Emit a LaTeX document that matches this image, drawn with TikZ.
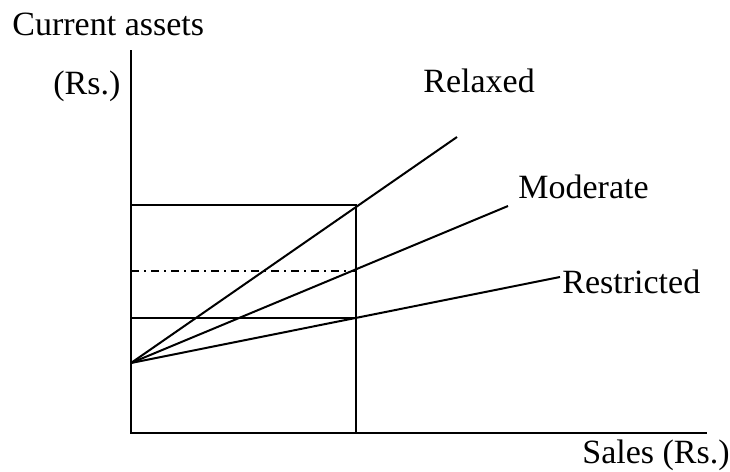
\documentclass[tikz,border=0pt]{standalone}
\usepackage{fontspec}
\setmainfont{Liberation Serif}
\usetikzlibrary{positioning}
\tikzstyle{axis} = [draw, line width=1pt]
\tikzstyle{line} = [draw, line width=1pt]
\tikzstyle{guide} = [draw, line width=1pt, dash pattern=on 4pt off 2.5pt on 1pt off 2.5pt]
\tikzstyle{label} = [anchor=base west, inner sep=0pt, font=\fontsize{17}{20}\selectfont]

\begin{document}
\begin{tikzpicture}[x=0.5pt, y=-0.5pt]
    \useasboundingbox (0,0) rectangle (730,472);
    % Place points
    \coordinate (top) at (131,50);
    \coordinate (origin) at (131,433);
    \coordinate (right) at (707,433);
    \coordinate (start) at (131,363);
    \coordinate (relaxed end) at (457,137);
    \coordinate (moderate end) at (508,206);
    \coordinate (restricted end) at (560,277);
    \coordinate (high) at (131,205);
    \coordinate (mid) at (131,271);
    \coordinate (low) at (131,318);
    \coordinate (high sales) at (356,205);
    \coordinate (mid sales) at (356,271);
    \coordinate (low sales) at (356,318);
    \coordinate (sales) at (356,433);

    % Place labels
    \node [label] (assets) at (12,35) {Current assets};
    \node [label] (rs) at (53,94) {(Rs.)};
    \node [label] (relaxed) at (423,92) {Relaxed};
    \node [label] (moderate) at (518,198) {Moderate};
    \node [label] (restricted) at (562,293) {Restricted};
    \node [label] (salesrs) at (582,463) {Sales (Rs.)};

    % Draw axes
    \path [axis] (top) -- (origin) -- (right);

    % Draw lines
    \path [line] (start) -- (relaxed end);
    \path [line] (start) -- (moderate end);
    \path [line] (start) -- (restricted end);
    \path [line] (high) -- (high sales) -- (sales);
    \path [line] (low) -- (low sales);
    \path [guide] (mid) -- (mid sales);

\end{tikzpicture}
\end{document}
